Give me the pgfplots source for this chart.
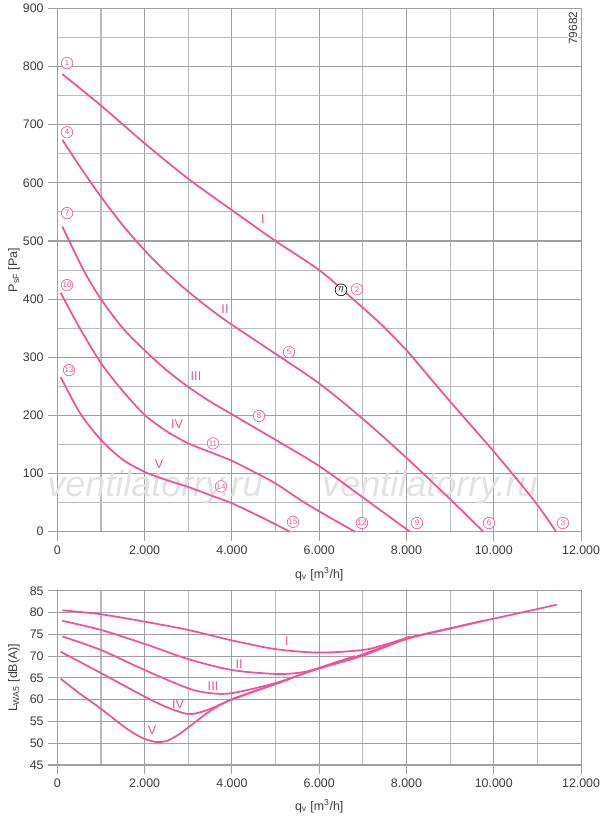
\documentclass[border=0pt]{standalone}
\usepackage{fontspec}
\setmainfont{Liberation Sans}
\usepackage{pgfplots}
\pgfplotsset{compat=1.18}
\definecolor{pk}{HTML}{F0529A}
\definecolor{gmaj}{HTML}{A0A0A0}
\definecolor{gmin}{HTML}{BBBBBB}
\definecolor{txt}{HTML}{3C3C3C}
\definecolor{wm}{HTML}{E2E2E2}
\pgfplotsset{
  base/.style={
    scale only axis, width=392.8pt,
    xmin=0, xmax=12000,
    xtick={0,2000,...,12000}, minor x tick num=1,
    scaled x ticks=false, scaled y ticks=false,
    /pgf/number format/1000 sep={.},
    /pgf/number format/assume math mode=true,
    grid=both,
    major grid style={gmaj, line width=0.85pt},
    minor grid style={gmin, line width=0.85pt},
    axis line style={gmaj, line width=0.85pt},
    tick align=outside, major tick length=6.75pt, minor tick length=0pt,
    tick style={gmaj, line width=0.85pt},
    xtick pos=bottom, ytick pos=left,
    tick label style={font=\fontsize{9.3}{11}\selectfont, text=txt},
    label style={font=\fontsize{9.3}{11}\selectfont, text=txt},
    every axis plot post/.append style={pk, solid, line width=1.3pt, smooth, mark=none},
    clip=false,
  },
}
\tikzset{
  circ/.style={circle, draw=pk, text=pk, inner sep=0pt, minimum size=8.6pt, line width=0.45pt, fill=white, font=\fontsize{5.9}{6}\selectfont},
  rn/.style={text=pk, font=\fontsize{9.5}{11}\selectfont},
}
\newcommand{\cn}[3]{\node[circ] at (axis cs:#1,#2) {#3};}
\begin{document}
\begin{tikzpicture}
\useasboundingbox (-43pt,-213.2pt) rectangle (407pt,398.8pt);
\begin{axis}[base, at={(0,0)}, anchor=south west, height=392.5pt,
  ymin=0, ymax=900, ytick={0,100,...,900}, minor y tick num=1,
  xlabel={q\textsubscript{v} [m\textsuperscript{3}/h]},
  ylabel={P\textsubscript{sF} [Pa]},
  xlabel style={at={(axis description cs:0.5,-0.081)}, anchor=center},
  ylabel style={at={(axis description cs:-0.0827,0.5)}, anchor=center},
]
\node[text=wm, font=\itshape\fontsize{27}{30}\selectfont] at (axis cs:2238,77) {ventilatorry.ru};
\node[text=wm, font=\itshape\fontsize{27}{30}\selectfont] at (axis cs:8538,77) {ventilatorry.ru};
% I
\addplot coordinates {(115,787)(1000,733)(2000,668)(3000,607)(4000,553)(5000,500)(6000,450)(6700,405)(7400,358)(8000,312)(8500,268)(9000,224)(9500,181)(10000,138)(10500,93)(11000,46)(11430,0)};
% II
\addplot coordinates {(115,674)(500,630)(1000,576)(1500,527)(2000,484)(2500,446)(3000,413)(3500,383)(4000,356)(5000,306)(6000,255)(7000,194)(8000,127)(9000,56)(9760,0)};
% III
\addplot coordinates {(115,525)(600,450)(1000,400)(1500,350)(2000,312)(2500,278)(3000,249)(3500,224)(4000,202)(5000,158)(6000,113)(7000,59)(8080,0)};
% IV
\addplot coordinates {(77,411)(500,352)(1000,290)(1500,242)(2000,201)(2500,173)(3000,152)(3500,137)(4000,122)(4500,103)(5000,83)(5560,55)(6000,35)(6820,0)};
% V
\addplot coordinates {(77,266)(520,204)(1000,158)(1500,124)(2000,103)(2500,89)(3000,77)(3500,63)(4000,49)(4700,24)(5330,0)};
\cn{222}{806}{1}
\cn{222}{687}{4}
\cn{222}{548}{7}
\cn{222}{424}{10}
\cn{268}{278}{13}
\cn{5308}{309}{5}
\cn{6866}{417}{2}
\node[circle, draw=black, text=black, inner sep=0pt, minimum size=8.8pt, line width=0.5pt, fill=white, font=\fontsize{7}{7}\selectfont] at (axis cs:6500,416) {$\eta$};
\cn{4621}{199}{8}
\cn{3567}{152}{11}
\cn{3750}{78}{14}
\cn{5400}{17}{15}
\cn{6981}{15}{12}
\cn{8241}{15}{9}
\cn{9890}{15}{6}
\cn{11585}{15}{3}
\node[rn] at (axis cs:4712,538) {I};
\node[rn] at (axis cs:3842,383) {II};
\node[rn] at (axis cs:3177,268) {III};
\node[rn] at (axis cs:2742,185) {IV};
\node[rn] at (axis cs:2332,116) {V};
\node[rotate=90, fill=white, inner sep=0.6pt, text=txt, font=\fontsize{8.9}{10}\selectfont] at (axis cs:11814,866) {79682};
\end{axis}
\begin{axis}[base, at={(0,-44.25pt)}, anchor=north west, height=130.7pt,
  ymin=45, ymax=85, ytick={45,50,...,85}, minor y tick num=0,
  xlabel={q\textsubscript{v} [m\textsuperscript{3}/h]},
  ylabel={L\textsubscript{WA5} [dB(A)]},
  xlabel style={at={(axis description cs:0.5,-0.235)}, anchor=center},
  ylabel style={at={(axis description cs:-0.0827,0.5)}, anchor=center},
]
% I
\addplot coordinates {(115,80.5)(1000,79.6)(2000,77.9)(3000,76.0)(4000,73.6)(5000,71.6)(6000,70.8)(7000,71.4)(7500,72.6)(8000,74.1)(9000,76.4)(10000,78.6)(11000,80.8)(11440,81.8)};
% II
\addplot coordinates {(115,78.1)(1000,76.0)(2000,72.8)(3000,69.3)(4000,66.8)(5000,65.9)(5560,66.2)(6000,67.2)(7000,70.1)(8000,73.9)(9000,76.3)(9760,78.1)};
% III
\addplot coordinates {(115,74.5)(1000,71.4)(2000,66.8)(3000,62.6)(3500,61.5)(4000,61.5)(5000,63.8)(6000,67.2)(7000,70.4)(8080,74.5)};
% IV
\addplot coordinates {(76,71.0)(1000,66.1)(2000,60.7)(2500,58.3)(3000,56.7)(3400,57.5)(4000,60.0)(5000,63.6)(6000,67.3)(6820,70.0)};
% V
\addplot coordinates {(76,64.8)(500,61.5)(1000,57.9)(1500,54.0)(1800,52.0)(2000,51.0)(2250,50.3)(2500,50.5)(2750,51.8)(3000,53.6)(3500,57.4)(4000,60.1)(5000,63.6)(5330,64.8)};
\node[rn] at (axis cs:5262,73.5) {I};
\node[rn] at (axis cs:4163,68.2) {II};
\node[rn] at (axis cs:3567,63.1) {III};
\node[rn] at (axis cs:2765,59.0) {IV};
\node[rn] at (axis cs:2171,53.0) {V};
\end{axis}
\end{tikzpicture}
\end{document}
